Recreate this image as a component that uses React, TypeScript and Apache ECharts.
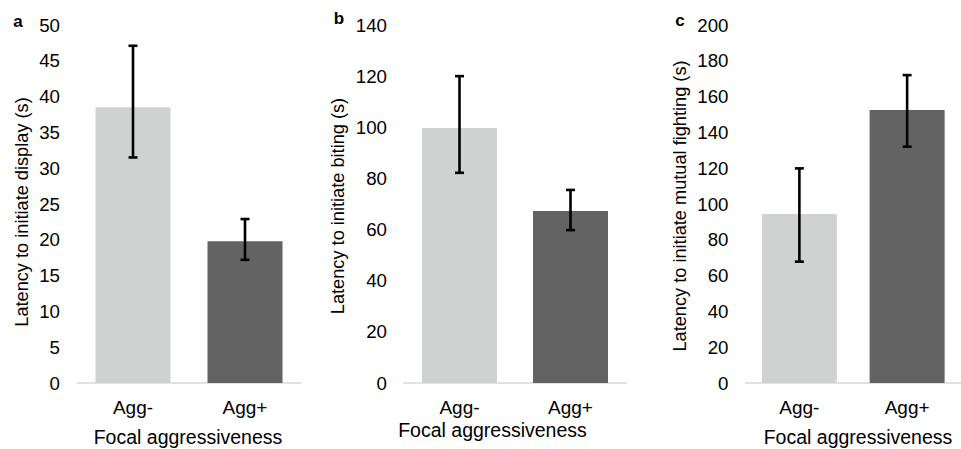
import React, { useEffect, useRef } from "react";
import * as echarts from "echarts";

const categories = ["Agg-", "Agg+"];
const xTitle = "Focal aggressiveness";

const displayMeans = [38.5, 19.8];
const displayLow = [31.5, 17.2];
const displayHigh = [47.1, 22.9];

const bitingMeans = [99.7, 67.3];
const bitingLow = [82.2, 59.8];
const bitingHigh = [120, 75.5];

const fightMeans = [94.4, 152.5];
const fightLow = [67.8, 132];
const fightHigh = [119.9, 172];

const panelLabels = ["a", "b", "c"];
const yTitles = [
  "Latency to initiate display (s)",
  "Latency to initiate biting (s)",
  "Latency to initiate mutual fighting (s)",
];
const yMax = [50, 140, 200];
const yInterval = [5, 20, 20];

const barColors = ["#D0D2D1", "#636363"];
const FONT = "'Liberation Sans', Arial, sans-serif";

export default function App() {
  const ref = useRef<HTMLDivElement>(null);
  useEffect(() => {
    if (!ref.current) return;
    const chart = echarts.init(ref.current, null, { renderer: "svg" });

    const grids = [
      { left: 77, top: 25, width: 224, height: 358 },
      { left: 404, top: 25, width: 222, height: 358 },
      { left: 745.5, top: 25, width: 226, height: 358 },
    ];
    const means = [displayMeans, bitingMeans, fightMeans];
    const lows = [displayLow, bitingLow, fightLow];
    const highs = [displayHigh, bitingHigh, fightHigh];

    const xAxis = grids.map((_, i) => ({
      type: "category",
      gridIndex: i,
      data: categories,
      axisLine: { show: true, lineStyle: { color: "#D9D9D9", width: 1.5 } },
      axisTick: { show: false },
      axisLabel: { fontSize: 19, margin: 15, color: "#000", fontFamily: FONT },
    }));
    const yAxis = grids.map((_, i) => ({
      type: "value",
      gridIndex: i,
      min: 0,
      max: yMax[i],
      interval: yInterval[i],
      axisLine: { show: false },
      axisTick: { show: false },
      splitLine: { show: false },
      axisLabel: { fontSize: 18.7, margin: 17, color: "#000", fontFamily: FONT },
    }));

    const series: any[] = [];
    grids.forEach((_, i) => {
      series.push({
        type: "bar",
        xAxisIndex: i,
        yAxisIndex: i,
        barWidth: 75,
        data: means[i].map((v, k) => ({ value: v, itemStyle: { color: barColors[k] } })),
        z: 2,
      });
      series.push({
        type: "custom",
        xAxisIndex: i,
        yAxisIndex: i,
        z: 5,
        data: categories.map((_, k) => [k, lows[i][k], highs[i][k]]),
        renderItem: (params: any, api: any) => {
          const x = api.value(0);
          const lo = api.coord([x, api.value(1)]);
          const hi = api.coord([x, api.value(2)]);
          const hw = 4.5;
          const style = { stroke: "#000", lineWidth: 2.6 };
          return {
            type: "group",
            children: [
              { type: "line", shape: { x1: lo[0], y1: lo[1], x2: hi[0], y2: hi[1] }, style },
              { type: "line", shape: { x1: hi[0] - hw, y1: hi[1], x2: hi[0] + hw, y2: hi[1] }, style },
              { type: "line", shape: { x1: lo[0] - hw, y1: lo[1], x2: lo[0] + hw, y2: lo[1] }, style },
            ],
          };
        },
      });
    });

    const panelPos = [
      [18, 21],
      [339, 18],
      [680, 20],
    ];
    const yTitlePos = [
      [22, 212],
      [338, 206],
      [680, 206],
    ];
    const xTitlePos = [
      [188, 437],
      [492.5, 430],
      [858, 437],
    ];
    const graphic: any[] = [];
    for (let i = 0; i < 3; i++) {
      graphic.push({
        type: "text",
        x: panelPos[i][0],
        y: panelPos[i][1],
        style: {
          text: panelLabels[i],
          font: `bold 17px ${FONT}`,
          fill: "#000",
          textAlign: "center",
          textVerticalAlign: "middle",
        },
      });
      graphic.push({
        type: "text",
        x: yTitlePos[i][0],
        y: yTitlePos[i][1],
        rotation: Math.PI / 2,
        style: {
          text: yTitles[i],
          font: `18.2px ${FONT}`,
          fill: "#000",
          textAlign: "center",
          textVerticalAlign: "middle",
        },
      });
      graphic.push({
        type: "text",
        x: xTitlePos[i][0],
        y: xTitlePos[i][1],
        style: {
          text: xTitle,
          font: `19.5px ${FONT}`,
          fill: "#000",
          textAlign: "center",
          textVerticalAlign: "middle",
        },
      });
    }

    chart.setOption({
      animation: false,
      backgroundColor: "#fff",
      grid: grids,
      xAxis,
      yAxis,
      series,
      graphic,
    });
    return () => chart.dispose();
  }, []);
  return (
    <div
      ref={ref}
      style={{ position: "fixed", left: 0, top: 0, width: 961, height: 449 }}
    />
  );
}
